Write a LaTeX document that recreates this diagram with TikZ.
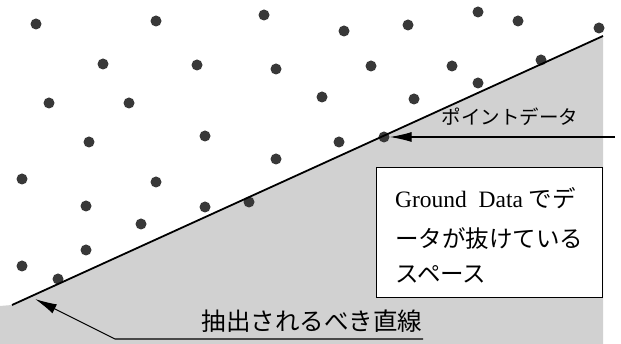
\documentclass[tikz,border=0pt]{standalone}
\usepackage{fontspec}
\setmainfont{Liberation Serif}
\newfontfamily\cjk{Noto Sans CJK JP}
\usetikzlibrary{arrows.meta}
\begin{document}
\begin{tikzpicture}[x=1pt,y=-1pt,
  dot/.style={circle,fill=black!78,inner sep=0pt,minimum size=11pt},
  callout/.style={line width=1.1pt,-{Latex[length=22pt,width=10pt]}},
  mainline/.style={line width=1.8pt},
  lbl/.style={inner sep=0pt,anchor=base}]
\useasboundingbox (0,0) rectangle (621,344);
\fill[white] (0,0) rectangle (621,344);
% gray region below the line
\fill[black!18] (0,306) -- (12,305) -- (603,36) -- (603,344) -- (0,344) -- cycle;
% dots
\foreach \x/\y [count=\i] in {36/24,156/21,264/15,344/31,408/25,478/12,518/21,599/28,
  103/64,197/65,276/69,371/66,452/66,541/60,
  49/103,129/103,322/97,414/99,478/83,
  89/142,205/136,339/142,384/137,
  22/179,156/182,276/159,
  86/206,205/207,249/202,
  141/224,86/250,22/266,58/279}
  \node[dot] (d\i) at (\x,\y) {};
% extracted line
\coordinate (la) at (12,305);
\coordinate (lb) at (603,36);
\draw[mainline] (la) -- (lb);
% point data label
\node[lbl,font=\cjk\fontsize{19.5pt}{22pt}\selectfont] (pt) at (510,125) {ポイントデータ};
\coordinate (ptr) at (615,137);
\draw[callout] (ptr) -- (d23.east);
% box
\node[draw,line width=1.1pt,fill=white,minimum width=226pt,minimum height=130pt,inner sep=0pt,anchor=north west] (box) at (376,167) {};
\node[lbl,anchor=base west,font=\fontsize{23.5pt}{28pt}\selectfont] (t1) at (395,208) {Ground\ \ Data {\cjk でデ}};
\node[lbl,anchor=base west,font=\cjk\fontsize{23.5pt}{28pt}\selectfont] (t2) at (395,248) {ータが抜けている};
\node[lbl,anchor=base west,font=\cjk\fontsize{23.5pt}{28pt}\selectfont] (t3) at (395,283) {スペース};
% extracted line label
\node[lbl,font=\cjk\fontsize{24.5pt}{28pt}\selectfont] (ex) at (312,331) {抽出されるべき直線};
\coordinate (ulr) at (423,339);
\coordinate (ull) at (115,339);
\coordinate (tip) at (35,299);
\draw[callout] (ulr) -- (ull) -- (tip);
\end{tikzpicture}
\end{document}
